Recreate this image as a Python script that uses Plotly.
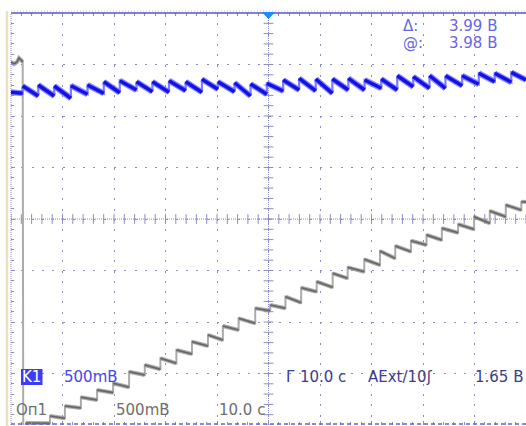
import numpy as np
import plotly.graph_objects as go

# ---------------- data (time in s, 10 s/div; voltage in V, 0.5 V/div) ----------------
blue_start_t, blue_start_v = -50.0, 1.230
blue_jump_t = [-47.73, -44.71, -41.61, -38.37, -35.14, -31.98, -28.88, -25.64, -22.54, -19.32,
               -16.09, -12.93, -9.83, -6.59, -3.49, -0.33, 2.85, 5.95, 9.17, 12.40,
               15.50, 18.66, 21.90, 25.00, 28.10, 31.26, 34.36, 37.60, 40.83, 43.93, 47.15]
blue_before = [1.220, 1.194, 1.194, 1.172, 1.211, 1.220, 1.226, 1.252, 1.236, 1.230,
               1.246, 1.230, 1.259, 1.236, 1.194, 1.211, 1.243, 1.252, 1.243, 1.220,
               1.252, 1.252, 1.269, 1.252, 1.284, 1.269, 1.269, 1.294, 1.308, 1.333, 1.327]
blue_top = [1.291, 1.301, 1.291, 1.294, 1.301, 1.333, 1.343, 1.333, 1.333, 1.343,
            1.333, 1.356, 1.333, 1.323, 1.311, 1.317, 1.350, 1.366, 1.359, 1.359,
            1.366, 1.350, 1.359, 1.391, 1.382, 1.391, 1.391, 1.391, 1.415, 1.415, 1.424]
blue_end_t, blue_end_v = 50.0, 1.350

gray_head_t = [-50.0, -49.42, -48.84, -48.45, -48.06, -47.73, -47.62, -47.29, -47.09, -42.44]
gray_head_v = [1.524, 1.505, 1.524, 1.563, 1.544, 1.524, -2.15, -2.15, -1.981, -1.983]
gray_step_t = [-42.44, -39.53, -36.43, -33.28, -30.17, -27.07, -24.03, -20.99, -17.89, -14.86,
               -11.76, -8.86, -5.81, -2.58, 0.33, 3.29, 6.34, 9.36, 12.46, 15.37,
               18.60, 21.65, 24.61, 27.66, 30.68, 33.66, 36.82, 39.92, 42.97, 46.07, 49.09]
gray_step_top = [-1.913, -1.816, -1.731, -1.660, -1.595, -1.483, -1.417, -1.352, -1.272, -1.191,
                 -1.126, -1.039, -0.964, -0.867, -0.835, -0.754, -0.667, -0.609, -0.527, -0.469,
                 -0.391, -0.311, -0.262, -0.211, -0.155, -0.090, -0.051, 0.022, 0.078, 0.136, 0.168]
gray_step_end = [-1.935, -1.835, -1.757, -1.686, -1.634, -1.515, -1.459, -1.401, -1.311, -1.233,
                 -1.175, -1.078, -1.013, -0.890, -0.867, -0.813, -0.706, -0.663, -0.576, -0.512,
                 -0.447, -0.382, -0.317, -0.252, -0.204, -0.133, -0.100, -0.042, 0.022, 0.087, 0.165]
gray_end_t = 50.0

# ---------------- build vertex lists ----------------
# full paths (including vertical edges) and the dense "flat" parts separately
bx, by = [blue_start_t], [blue_start_v]
bsx, bsy = [blue_start_t], [blue_start_v]
for i, (t, b, tp) in enumerate(zip(blue_jump_t, blue_before, blue_top)):
    bx += [t, t]
    by += [b, tp]
    bsx += [t, None, t]
    bsy += [b, None, tp]
bx.append(blue_end_t)
by.append(blue_end_v)
bsx.append(blue_end_t)
bsy.append(blue_end_v)

gx, gy = list(gray_head_t), list(gray_head_v)
gsx, gsy = list(gray_head_t[:6]) + [None], list(gray_head_v[:6]) + [None]
gsx += gray_head_t[8:] + [None]
gsy += gray_head_v[8:] + [None]
for i, t in enumerate(gray_step_t):
    nxt = gray_step_t[i + 1] if i + 1 < len(gray_step_t) else gray_end_t
    gx += [t, nxt]
    gy += [gray_step_top[i], gray_step_end[i]]
    gsx += [t, nxt, None]
    gsy += [gray_step_top[i], gray_step_end[i], None]

# ---------------- layout geometry ----------------
W_FIG, H_FIG = 526, 426
L, T, R, B = 11, 13, 0, 1
PW, PH = W_FIG - L - R, H_FIG - T - B


def pxx(x):
    return (x - L) / PW


def pxy(y):
    return 1 - (y - T) / PH


GRID = "#8c8cc0"
fig = go.Figure()

# centre graticule tick marks
ct = np.arange(-50, 50.01, 2)
cv = np.arange(-2, 2.001, 0.1)
fig.add_trace(go.Scatter(x=ct, y=np.zeros_like(ct), mode="markers", hoverinfo="skip",
                         marker=dict(symbol="line-ns", size=7, line=dict(width=1, color=GRID))))
fig.add_trace(go.Scatter(x=np.zeros_like(cv), y=cv, mode="markers", hoverinfo="skip",
                         marker=dict(symbol="line-ew", size=7, line=dict(width=1, color=GRID))))

# gray trace (Оп1)
fig.add_trace(go.Scatter(x=gx, y=gy, mode="lines", hoverinfo="skip",
                         line=dict(color="#ababab", width=2)))
fig.add_trace(go.Scatter(x=gsx, y=gsy, mode="lines", hoverinfo="skip", connectgaps=False,
                         line=dict(color="rgba(150,150,150,0.8)", width=4)))
fig.add_trace(go.Scatter(x=gsx, y=gsy, mode="lines", hoverinfo="skip", connectgaps=False,
                         line=dict(color="#666666", width=1.6)))
# blue trace (K1)
fig.add_trace(go.Scatter(x=bx, y=by, mode="lines", hoverinfo="skip",
                         line=dict(color="#7c7cff", width=2.2)))
fig.add_trace(go.Scatter(x=bsx, y=bsy, mode="lines", hoverinfo="skip", connectgaps=False,
                         line=dict(color="rgba(110,110,255,0.8)", width=6)))
fig.add_trace(go.Scatter(x=bsx, y=bsy, mode="lines", hoverinfo="skip", connectgaps=False,
                         line=dict(color="#1212e6", width=3.5)))

shapes = [
    # centre lines (dense dots)
    dict(type="line", xref="x", yref="paper", x0=0, x1=0, y0=0, y1=1,
         line=dict(color=GRID, width=1, dash="1px,1px"), layer="below"),
    dict(type="line", xref="paper", yref="y", x0=0, x1=1, y0=0, y1=0,
         line=dict(color=GRID, width=1, dash="1px,1px"), layer="below"),
    # left edge dotted
    dict(type="line", xref="paper", yref="paper", x0=0, x1=0, y0=0, y1=1,
         line=dict(color=GRID, width=1, dash="1px,1px"), layer="below"),
    # tan frame on the left and top
    dict(type="line", xref="paper", yref="paper", x0=pxx(7), x1=pxx(7), y0=pxy(11), y1=pxy(426),
         line=dict(color="#ebe2bd", width=2.5), layer="above"),
    dict(type="line", xref="paper", yref="paper", x0=0, x1=1, y0=pxy(11), y1=pxy(11),
         line=dict(color="#d6ca8e", width=1, dash="1px,2px"), layer="above"),
    # top solid blue line
    dict(type="line", xref="paper", yref="paper", x0=0, x1=1, y0=1, y1=1,
         line=dict(color="#5555e0", width=1.5), layer="above"),
    # bottom dashed blue line
    dict(type="line", xref="paper", yref="paper", x0=0, x1=1, y0=pxy(424), y1=pxy(424),
         line=dict(color="#6262e0", width=1.5, dash="4px,3px"), layer="above"),
    # trigger marker
    dict(type="path", xref="x", yref="paper",
         path=f"M -1.1,{pxy(12.5)} L 1.1,{pxy(12.5)} L 0,{pxy(18.5)} Z",
         fillcolor="#1e8cff", line=dict(color="#1e8cff", width=1), layer="above"),
    # K1 box
    dict(type="rect", xref="paper", yref="paper", x0=pxx(21), x1=pxx(42.5), y0=pxy(385), y1=pxy(369),
         fillcolor="#3c3cf0", line=dict(width=0), layer="above"),
]

FONT = "DejaVu Sans"
ann = []


def txt(s, x, y, color, anchor="left", size=15):
    ann.append(dict(text=s, xref="paper", yref="paper", x=pxx(x), y=pxy(y), xanchor=anchor,
                    yanchor="middle", showarrow=False, borderpad=0,
                    font=dict(family=FONT, size=size, color=color)))


MEAS = "#6666e6"
txt("Δ:", 402, 26, MEAS)
txt("3.99 В", 498, 26, MEAS, anchor="right")
txt("@:", 402, 43, MEAS)
txt("3.98 В", 498, 43, MEAS, anchor="right")
txt("K1", 31.8, 377, "#ffffff", anchor="center")
txt("500mВ", 63, 377, "#4646f0")
txt("Г 10.0 с", 285, 377, "#3c3c8c")
txt("AExt/10ʃ", 367, 377, "#3c3c8c")
txt("1.65 В", 524, 377, "#3c3c8c", anchor="right")
txt("Оп1", 15, 410, "#6e6e6e")
txt("500mВ", 115, 410, "#6e6e6e")
txt("10.0 с", 218, 410, "#6e6e6e")

fig.update_layout(
    width=W_FIG, height=H_FIG,
    margin=dict(l=L, r=R, t=T, b=B, pad=0),
    paper_bgcolor="white", plot_bgcolor="white",
    showlegend=False,
    shapes=shapes, annotations=ann,
    xaxis=dict(range=[-50, 50], dtick=10, tick0=0, showticklabels=False, zeroline=False,
               showgrid=True, gridcolor=GRID, gridwidth=1, griddash="2px,8.3px",
               ticks="inside", ticklen=4, tickcolor=GRID, mirror="ticks", showline=False,
               minor=dict(dtick=2, ticks="inside", ticklen=3, tickcolor=GRID, showgrid=False),
               fixedrange=True),
    yaxis=dict(range=[-2, 2], dtick=0.5, tick0=0, showticklabels=False, zeroline=False,
               showgrid=True, gridcolor=GRID, gridwidth=1, griddash="2px,8.3px",
               ticks="inside", ticklen=4, tickcolor=GRID, showline=False,
               minor=dict(dtick=0.1, ticks="inside", ticklen=3, tickcolor=GRID, showgrid=False),
               fixedrange=True),
)

fig.write_html("out.html", config={"displayModeBar": False},
               post_script="document.body.style.margin='0';document.body.style.overflow='hidden';")
